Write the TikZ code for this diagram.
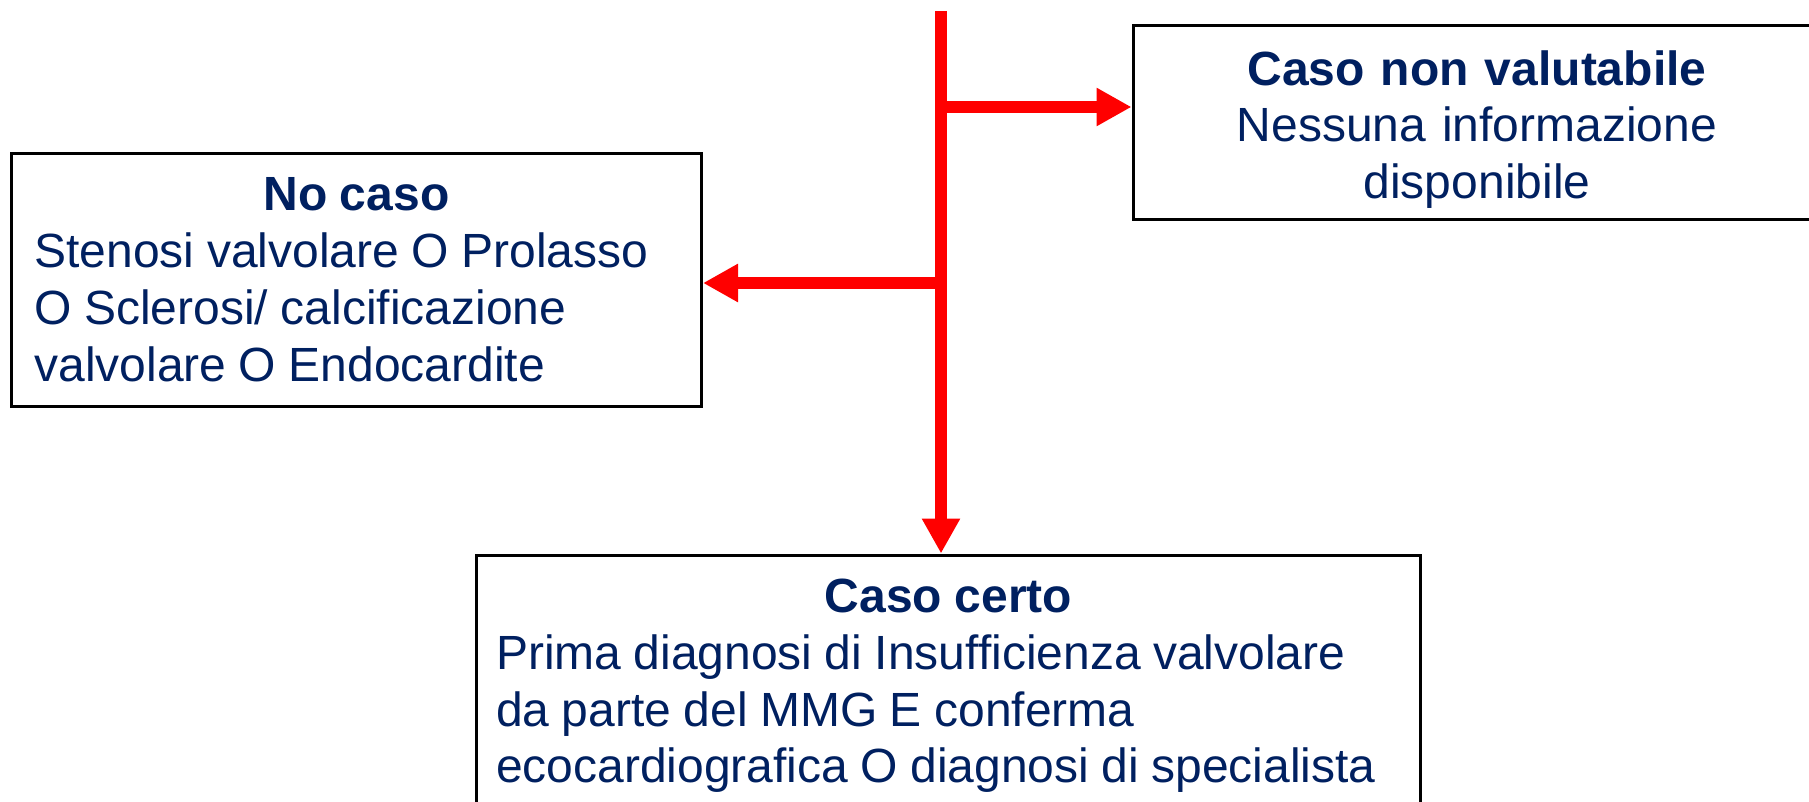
\documentclass[tikz,border=0pt]{standalone}
\usepackage{fontspec}
\setmainfont{Liberation Sans}
\usetikzlibrary{arrows.meta}
\definecolor{navy}{HTML}{002060}
\definecolor{flowred}{HTML}{FF0000}
\newcommand\myboxfont{\fontsize{24pt}{28.4pt}\selectfont}
\newcommand\tightwords{\spaceskip=0.26em plus 0.05em\relax}
\tikzset{
  frame/.style={draw=black, line width=1.5pt, fill=white, inner sep=0pt},
  boxtext/.style={inner sep=0pt, text=navy, font=\myboxfont},
  flow/.style={draw=flowred, line width=6.3pt},
  flowarrow/.style={flow, -{Triangle[length=17.5pt,width=18pt]}}
}
\begin{document}
\begin{tikzpicture}[x=0.5pt,y=-0.5pt]
\useasboundingbox (0,0) rectangle (1809,802);
% boxes
\node[frame, minimum width=344pt, minimum height=97pt] (nonval) at (1477,122.5) {};
\node[boxtext, text width=330pt, align=center] (nonvaltxt) at (1477,129.5)
  {\textbf{Caso non valutabile}\\Nessuna informazione\\disponibile};
\node[frame, minimum width=345pt, minimum height=126.3pt] (nocaso) at (356.5,279.7) {};
\node[boxtext, text width=322pt] (nocasotxt) at (356.5,279.7)
  {\raggedright\tightwords{\centering\bfseries No caso\par}Stenosi valvolare O Prolasso\\O Sclerosi/ calcificazione\\valvolare O Endocardite};
\node[frame, minimum width=472pt, minimum height=125pt] (certo) at (948.5,680) {};
\node[boxtext, text width=452.5pt] (certotxt) at (948.5,686)
  {\raggedright\tightwords{\centering\bfseries Caso certo\par}Prima diagnosi di Insufficienza valvolare\\da parte del MMG E conferma\\ecocardiografica O diagnosi di specialista};
% connectors
\coordinate (top) at (941,11);
\coordinate (jr) at (941,107);
\coordinate (jl) at (941,283);
\draw[flowarrow] (top) -- (top |- certo.north);
\draw[flowarrow] (jr) -- (jr -| nonval.west);
\draw[flowarrow] (jl) -- (jl -| nocaso.east);
\end{tikzpicture}
\end{document}
